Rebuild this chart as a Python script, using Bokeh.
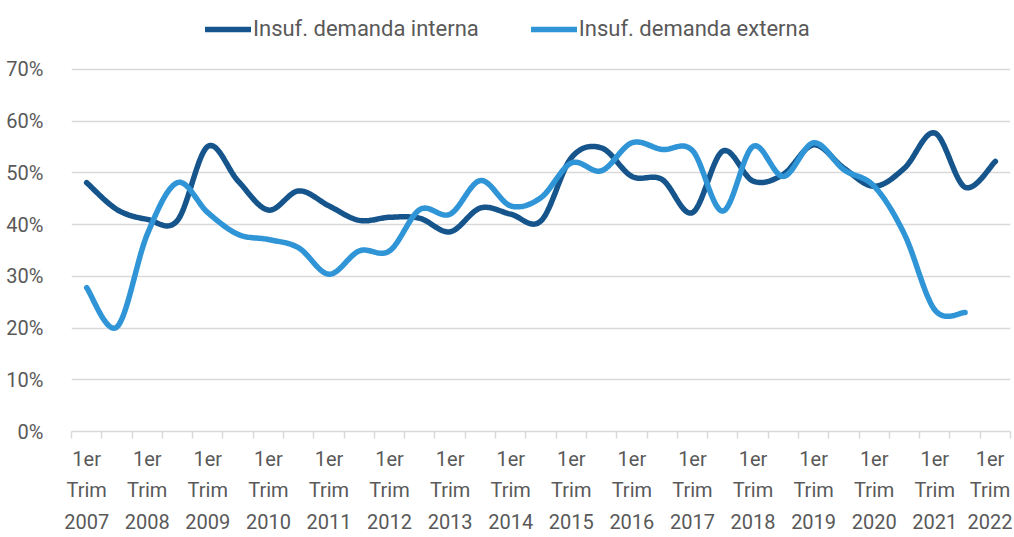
import numpy as np
from bokeh.plotting import figure
from bokeh.models import (Range1d, FixedTicker, PrintfTickFormatter, Legend, LegendItem)
from bokeh.embed import file_html
from bokeh.resources import INLINE

# ---- data (semiannual observations, values in %) ----
years = list(range(2007, 2023))
periods = ["1er Trim", "3er Trim"]
interna = [48.1, 42.9, 41.0, 40.8, 55.1, 48.4, 42.8, 46.5, 43.6, 40.8,
           41.4, 41.2, 38.6, 43.2, 42.0, 40.7, 52.9, 54.8, 49.3, 48.7,
           42.3, 54.2, 48.4, 49.7, 55.4, 50.9, 47.4, 50.9, 57.7, 47.2, 52.2]
externa = [27.8, 20.2, 38.1, 48.1, 42.3, 38.1, 37.1, 35.5, 30.4, 34.9,
           34.9, 42.9, 42.0, 48.5, 43.6, 45.2, 51.9, 50.4, 55.8, 54.5,
           54.3, 42.6, 55.1, 49.3, 55.8, 50.6, 47.4, 38.1, 23.5, 23.0]
series_names = ["Insuf. demanda interna", "Insuf. demanda externa"]
series_colors = ["#16558C", "#2F95D7"]
y_ticks = [0, 10, 20, 30, 40, 50, 60, 70]

FONT = "Roboto"
TXT = "#595959"
GRID = "#d9d9d9"


def smooth(vals, n=24):
    """Excel-like smoothed line (Catmull-Rom as cubic Bezier)."""
    v = np.asarray(vals, dtype=float)
    xs = np.arange(len(v), dtype=float)
    px, py = [], []
    for i in range(len(v) - 1):
        p0 = np.array([xs[max(i - 1, 0)], v[max(i - 1, 0)]])
        p1 = np.array([xs[i], v[i]])
        p2 = np.array([xs[i + 1], v[i + 1]])
        p3 = np.array([xs[min(i + 2, len(v) - 1)], v[min(i + 2, len(v) - 1)]])
        c1 = p1 + (p2 - p0) / 6.0
        c2 = p2 - (p3 - p1) / 6.0
        t = np.linspace(0, 1, n, endpoint=(i == len(v) - 2))[:, None]
        pts = ((1 - t) ** 3) * p1 + 3 * ((1 - t) ** 2) * t * c1 + 3 * (1 - t) * t ** 2 * c2 + t ** 3 * p2
        px.extend(pts[:, 0]); py.extend(pts[:, 1])
    return px, py


# frame spans page y 0..432; 70% sits at y=69, the headroom holds the legend
p = figure(width=1012, height=536, output_backend="svg", toolbar_location=None,
           x_range=Range1d(-0.5, 30.5), y_range=Range1d(0, 83.3),
           min_border_left=71, min_border_right=2, min_border_top=0, min_border_bottom=104)
p.outline_line_color = None
p.background_fill_color = "white"

renderers = []
for vals, name, col in zip([interna, externa], series_names, series_colors):
    sx, sy = smooth(vals)
    r = p.line(sx, sy, line_color=col, line_width=5.5, line_cap="round", line_join="round")
    renderers.append((name, r))

# y axis
p.yaxis.ticker = FixedTicker(ticks=y_ticks)
p.yaxis.formatter = PrintfTickFormatter(format="%d%%")
p.yaxis.axis_line_color = None
p.yaxis.major_tick_line_color = None
p.yaxis.minor_tick_line_color = None
p.yaxis.major_label_text_font = FONT
p.yaxis.major_label_text_font_size = "20px"
p.yaxis.major_label_text_color = TXT
p.yaxis.major_label_standoff = 22
p.ygrid.grid_line_color = GRID
p.ygrid.grid_line_width = 1.5
p.xgrid.grid_line_color = None

# x axis
labels = [f"{periods[k % 2]} {years[k // 2]}" for k in range(31)]
major = list(range(0, 31, 2))
p.xaxis.ticker = FixedTicker(ticks=major, minor_ticks=[k + 0.5 for k in range(-1, 31)])
p.xaxis.major_label_overrides = {k: labels[k].replace("1er Trim ", "1er\nTrim\n") for k in major}
p.xaxis.axis_line_color = GRID
p.xaxis.axis_line_width = 1.5
p.xaxis.major_tick_line_color = None
p.xaxis.minor_tick_line_color = GRID
p.xaxis.minor_tick_line_width = 1.5
p.xaxis.minor_tick_in = 0
p.xaxis.minor_tick_out = 7
p.xaxis.major_label_text_font = FONT
p.xaxis.major_label_text_font_size = "20px"
p.xaxis.major_label_text_color = TXT
p.xaxis.major_label_text_line_height = 1.32
p.xaxis.major_label_standoff = 8

legend = Legend(items=[LegendItem(label=n, renderers=[r]) for n, r in renderers],
                orientation="horizontal", location=(134, 390),
                label_text_font=FONT, label_text_font_size="22px", label_text_color=TXT,
                glyph_width=46, glyph_height=22, label_standoff=2, spacing=52,
                border_line_color=None, background_fill_alpha=0, padding=4, margin=0)
p.add_layout(legend, "center")

open("out.html", "w").write(file_html(p, INLINE))
